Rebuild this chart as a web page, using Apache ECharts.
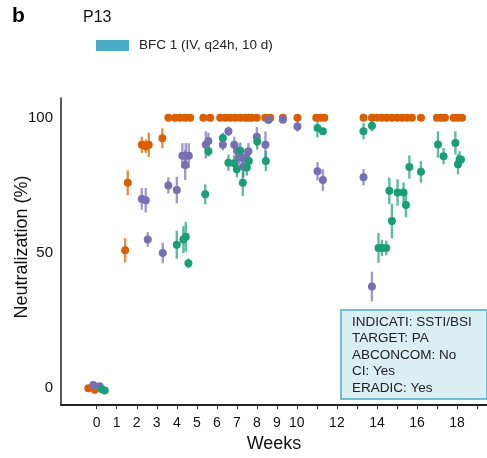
<!DOCTYPE html>
<html>
<head>
<meta charset="utf-8">
<script src="https://cdn.jsdelivr.net/npm/echarts@6/dist/echarts.min.js"></script>
<style>
html,body{margin:0;padding:0;background:#fff;}
#chart{width:487px;height:458px;}
</style>
</head>
<body>
<div id="chart"></div>
<script>
// ---- data (weeks, neutralization %, error half-width) ----
const orangeWeeks = [-0.42, -0.1, 1.42, 1.55, 2.25, 2.45, 2.6, 3.28, 3.58, 3.92, 4.17, 4.42, 4.67, 5.33, 5.67, 6.17, 6.42, 6.67, 6.92, 7.17, 7.42, 7.58, 7.75, 8.0, 8.42, 8.67, 9.3, 10.03, 10.97, 11.17, 11.37, 13.33, 13.75, 14.0, 14.25, 14.5, 14.75, 15.0, 15.25, 15.5, 15.75, 16.2, 17.0, 17.2, 17.4, 17.83, 18.04, 18.25];
const orangeValues = [0, -0.5, 51, 76, 90, 89.5, 90, 92.4, 100, 100, 100, 100, 100, 100, 100, 100, 100, 100, 100, 100, 100, 100, 100, 100, 100, 100, 100, 100, 100, 100, 100, 100, 100, 100, 100, 100, 100, 100, 100, 100, 100, 100, 100, 100, 100, 100, 100, 100];
const orangeErrors = [0, 0, 4.5, 4.6, 3, 2.5, 4.5, 3.7, 0, 0, 0, 0, 0, 0, 0, 0, 0, 0, 0, 0, 0, 0, 0, 0, 0, 0, 0, 0, 0, 0, 0, 0, 0, 0, 0, 0, 0, 0, 0, 0, 0, 0, 0, 0, 0, 0, 0, 0];

const purpleWeeks = [-0.17, 0.15, 2.25, 2.45, 2.55, 3.3, 3.58, 4.0, 4.28, 4.45, 4.6, 4.42, 5.45, 5.58, 6.3, 6.58, 6.87, 7.03, 7.1, 7.25, 7.42, 7.33, 7.58, 8.0, 8.43, 8.58, 9.3, 10.03, 11.03, 11.3, 13.33, 13.75];
const purpleValues = [1.2, 0.8, 70, 69.5, 55, 50, 75, 73.3, 86, 86, 86, 82.5, 90, 91.4, 90, 95, 90, 87.6, 85.2, 85.2, 85.2, 82, 87.6, 93, 90, 99.2, 99.3, 96.8, 80.2, 77, 78, 37.6];
const purpleErrors = [0, 0, 4, 4.5, 2.7, 3.8, 3, 4.9, 4.6, 4.6, 4.6, 5.5, 5, 3, 2, 1.8, 3, 3, 3, 3, 3, 4, 3, 3.6, 4.9, 0, 0, 2, 3.4, 4, 3, 5.5];

const greenWeeks = [0.25, 0.4, 4.0, 4.33, 4.45, 4.58, 5.42, 5.58, 6.3, 6.58, 6.87, 7.0, 7.17, 7.3, 7.5, 7.6, 8.02, 8.45, 11.03, 11.3, 13.33, 13.75, 14.08, 14.25, 14.47, 14.62, 14.75, 15.03, 15.33, 15.45, 15.62, 16.2, 17.05, 17.33, 17.92, 18.05, 18.13, 18.2];
const greenValues = [-0.3, -0.8, 53.1, 55, 56, 46.2, 71.7, 87.6, 92.5, 83.4, 83.2, 81, 87.8, 76, 81.6, 84, 91.2, 84, 96.2, 95, 95, 97, 51.9, 51.9, 51.9, 73, 61.8, 72.4, 72.4, 67.8, 81.8, 80, 90.1, 85.8, 90.7, 82.8, 84.6, 84.6];
const greenErrors = [0, 0, 5.2, 5, 5.5, 1.8, 3.7, 2, 2, 3, 3, 3, 3, 5, 3, 3, 3, 3.7, 3.5, 0, 3, 2, 5.5, 3, 2.7, 4.9, 6.4, 4.9, 3.7, 4.6, 4.3, 4, 4.9, 3, 4.3, 3.7, 3, 0];

const xTickValues = [0,1,2,3,4,5,6,7,8,9,10,11,12,13,14,15,16,17,18,19];
const xLabelValues = [0,1,2,3,4,5,6,7,8,9,10,12,14,16,18];
const yLabelValues = [0, 50, 100];
const annotationLines = ['INDICATI: SSTI/BSI', 'TARGET: PA', 'ABCONCOM: No', 'CI: Yes', 'ERADIC: Yes'];

const COLORS = {orange:'#D95F02', purple:'#7570B3', green:'#1B9E77'};

function zip(w, v, e){ return w.map((x,i)=>[x, v[i], e[i]]); }

function errSeries(name, data, color){
  return {
    type:'custom', name: name + ' err', data: data, silent:true,
    encode:{x:0, y:1},
    renderItem: function(params, api){
      const x = api.value(0), y = api.value(1), e = api.value(2);
      if (!e) return null;
      const p1 = api.coord([x, y - e]);
      const p2 = api.coord([x, y + e]);
      return {type:'line', shape:{x1:p1[0], y1:p1[1], x2:p2[0], y2:p2[1]},
              style:{stroke: color, lineWidth: 2.4, opacity: 0.7}};
    }
  };
}
function ptSeries(name, data, color){
  return {type:'scatter', name:name, data:data.map(d=>[d[0], d[1]]), symbolSize:8,
          itemStyle:{color:color, opacity:1}, silent:true};
}

const oData = zip(orangeWeeks, orangeValues, orangeErrors);
const pData = zip(purpleWeeks, purpleValues, purpleErrors);
const gData = zip(greenWeeks, greenValues, greenErrors);

const chart = echarts.init(document.getElementById('chart'), null, {renderer:'canvas'});
const FONT = 'Liberation Sans, Arial, sans-serif';
chart.setOption({
  animation:false,
  textStyle:{fontFamily: FONT},
  grid:{left:61, right:0, top:98, bottom:50, containLabel:false},
  xAxis:{
    type:'value', min:-1.785, max:19.5,
    name:'Weeks', nameLocation:'middle', nameGap:28,
    nameTextStyle:{fontSize:18, color:'#111', fontFamily:FONT},
    axisLine:{onZero:false, lineStyle:{color:'#222', width:2}},
    axisTick:{show:true, length:4, customValues:xTickValues, lineStyle:{color:'#333', width:1}},
    axisLabel:{customValues:xLabelValues, fontSize:14, color:'#111', margin:11, fontFamily:FONT},
    splitLine:{show:false}
  },
  yAxis:{
    type:'value', min:-6.2, max:107.3,
    axisLine:{show:true, onZero:false, lineStyle:{color:'#222', width:1.5}},
    axisTick:{show:false},
    axisLabel:{customValues:yLabelValues, fontSize:15, color:'#111', margin:8, fontFamily:FONT},
    splitLine:{show:false}
  },
  series:[
    errSeries('orange', oData, COLORS.orange),
    ptSeries('orange', oData, COLORS.orange),
    errSeries('purple', pData, COLORS.purple),
    ptSeries('purple', pData, COLORS.purple),
    errSeries('green', gData, COLORS.green),
    ptSeries('green', gData, COLORS.green)
  ],
  graphic:[
    {type:'text', left:12, top:6, style:{text:'b', font:'bold 21px ' + FONT, fill:'#000'}},
    {type:'text', left:83, top:10, style:{text:'P13', font:'16px ' + FONT, fill:'#111'}},
    {type:'rect', shape:{x:96, y:40, width:33, height:11}, style:{fill:'#4BACC6'}},
    {type:'text', x:139, y:45.5, style:{text:'BFC 1 (IV, q24h, 10 d)', font:'13.5px ' + FONT, fill:'#222', verticalAlign:'middle'}},
    {type:'text', x:22, y:247, rotation:Math.PI/2,
     style:{text:'Neutralization (%)', font:'18px ' + FONT, fill:'#111', align:'center', verticalAlign:'middle'}},
    {type:'rect', shape:{x:341, y:310, width:146, height:89}, style:{fill:'#DAEEF3', stroke:'#4BACC6', lineWidth:1.5}},
    {type:'text', x:352, y:313.5,
     style:{text: annotationLines.join('\n'), font:'13.5px ' + FONT, lineHeight:16.6, fill:'#222', verticalAlign:'top'}}
  ]
});
</script>
</body>
</html>
